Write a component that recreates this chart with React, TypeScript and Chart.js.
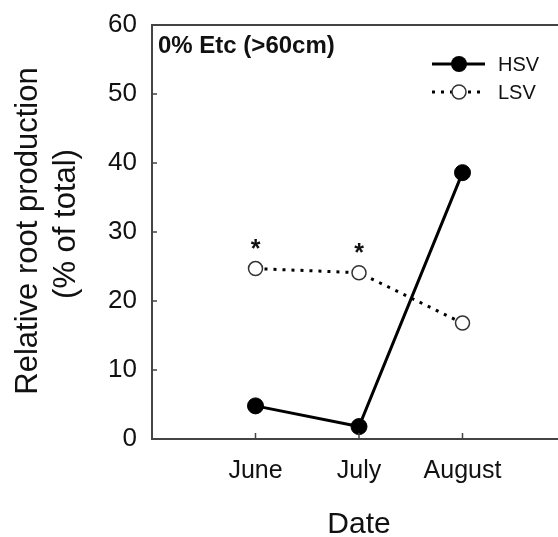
import React, { useEffect, useRef } from "react";
import { Chart, registerables } from "chart.js";

Chart.register(...registerables);

const categories = ["June", "July", "August"];
const hsv = [4.8, 1.8, 38.6];
const lsv = [24.7, 24.1, 16.8];
const significance = ["*", "*", ""];
const yTicks = [0, 10, 20, 30, 40, 50, 60];
const panelTitle = "0% Etc (>60cm)";
const yTitle = ["Relative root production", "(% of total)"];
const xTitle = "Date";
const seriesNames = ["HSV", "LSV"];

const FONT = "'Liberation Sans', Arial, Helvetica, sans-serif";
const AXIS = "#444";
const TEXT = "#111";

const overlay = {
  id: "overlay",
  afterDraw(chart: any) {
    const ctx = chart.ctx;
    const area = chart.chartArea;
    const xs = chart.scales.x;
    const ys = chart.scales.y;
    ctx.save();
    // top frame line
    ctx.strokeStyle = AXIS;
    ctx.lineWidth = 2;
    ctx.beginPath();
    ctx.moveTo(area.left, area.top);
    ctx.lineTo(area.right, area.top);
    ctx.stroke();
    // inward ticks
    ctx.lineWidth = 1.5;
    ctx.beginPath();
    yTicks.slice(1, -1).forEach((v) => {
      const py = ys.getPixelForValue(v);
      ctx.moveTo(area.left, py);
      ctx.lineTo(area.left + 5, py);
    });
    categories.forEach((_, i) => {
      const px = xs.getPixelForValue(i);
      ctx.moveTo(px, area.bottom);
      ctx.lineTo(px, area.bottom - 6);
    });
    ctx.stroke();

    // significance asterisks
    ctx.fillStyle = TEXT;
    ctx.font = `bold 25px ${FONT}`;
    ctx.textAlign = "center";
    ctx.textBaseline = "alphabetic";
    significance.forEach((s, i) => {
      if (!s) return;
      const px = xs.getPixelForValue(i);
      const py = ys.getPixelForValue(lsv[i]) - 26 + 14;
      ctx.fillText(s, px, py);
    });

    // panel title
    ctx.font = `bold 24px ${FONT}`;
    ctx.textAlign = "left";
    ctx.fillText(panelTitle, area.left + 6, area.top + 28);

    // y title
    ctx.font = `31px ${FONT}`;
    ctx.textAlign = "center";
    ctx.save();
    ctx.translate(0, 231);
    ctx.rotate(-Math.PI / 2);
    ctx.fillText(yTitle[0], 0, 37);
    ctx.restore();
    ctx.save();
    ctx.translate(0, 224);
    ctx.rotate(-Math.PI / 2);
    ctx.fillText(yTitle[1], 0, 75);
    ctx.restore();

    // x title
    ctx.font = `30px ${FONT}`;
    ctx.textAlign = "center";
    ctx.fillText(xTitle, (area.left + area.right) / 2, 533);

    // legend
    const lx0 = 432, lx1 = 485, mx = 459, tx = 498;
    const rows = [64, 92];
    ctx.strokeStyle = "#000";
    ctx.lineWidth = 3;
    ctx.setLineDash([]);
    ctx.beginPath();
    ctx.moveTo(lx0, rows[0]);
    ctx.lineTo(lx1, rows[0]);
    ctx.stroke();
    ctx.fillStyle = "#000";
    ctx.beginPath();
    ctx.arc(mx, rows[0], 8, 0, Math.PI * 2);
    ctx.fill();
    ctx.setLineDash([3, 6]);
    ctx.beginPath();
    ctx.moveTo(lx0, rows[1]);
    ctx.lineTo(lx1, rows[1]);
    ctx.stroke();
    ctx.setLineDash([]);
    ctx.fillStyle = "#fff";
    ctx.strokeStyle = "#333";
    ctx.lineWidth = 1.5;
    ctx.beginPath();
    ctx.arc(mx, rows[1], 7, 0, Math.PI * 2);
    ctx.fill();
    ctx.stroke();
    ctx.fillStyle = TEXT;
    ctx.font = `20px ${FONT}`;
    ctx.textAlign = "left";
    ctx.textBaseline = "middle";
    ctx.fillText(seriesNames[0], tx, rows[0] + 1);
    ctx.fillText(seriesNames[1], tx, rows[1] + 1);
    ctx.restore();
  },
};

export default function App() {
  const ref = useRef<HTMLCanvasElement>(null);
  useEffect(() => {
    if (!ref.current) return;
    const chart = new Chart(ref.current, {
      type: "line",
      data: {
        datasets: [
          {
            label: seriesNames[0],
            data: hsv.map((v, i) => ({ x: i, y: v })),
            borderColor: "#000",
            borderWidth: 3,
            backgroundColor: "#000",
            pointBackgroundColor: "#000",
            pointBorderColor: "#000",
            pointRadius: 8,
            pointBorderWidth: 1,
            fill: false,
            tension: 0,
          },
          {
            label: seriesNames[1],
            data: lsv.map((v, i) => ({ x: i, y: v })),
            borderColor: "#000",
            borderWidth: 3,
            borderDash: [3, 6],
            pointBackgroundColor: "#fff",
            pointBorderColor: "#333",
            pointBorderWidth: 1.5,
            pointRadius: 7,
            fill: false,
            tension: 0,
          },
        ],
      },
      options: {
        responsive: false,
        animation: false,
        layout: { padding: { top: 25, left: 0, right: 8, bottom: 0 } },
        plugins: { legend: { display: false }, tooltip: { enabled: false } },
        scales: {
          x: {
            type: "linear",
            min: -1,
            max: 3,
            afterBuildTicks: (scale: any) => {
              scale.ticks = categories.map((_, i) => ({ value: i }));
            },
            afterFit: (scale: any) => {
              scale.height = 98;
              scale.paddingLeft = 0;
              scale.paddingRight = 0;
            },
            ticks: {
              callback: (v: any) => categories[v as number] ?? "",
              font: { family: FONT, size: 25 },
              color: TEXT,
              padding: 17,
              maxRotation: 0,
              autoSkip: false,
            },
            grid: { display: false, drawTicks: false },
            border: { display: true, color: AXIS, width: 2 },
          },
          y: {
            min: 0,
            max: 60,
            afterBuildTicks: (scale: any) => {
              scale.ticks = yTicks.map((v) => ({ value: v }));
            },
            afterFit: (scale: any) => {
              scale.width = 152;
              scale.paddingTop = 0;
              scale.paddingBottom = 0;
            },
            ticks: {
              font: { family: FONT, size: 26 },
              color: TEXT,
              padding: 15,
            },
            grid: { display: false, drawTicks: false },
            border: { display: true, color: AXIS, width: 2 },
          },
        },
      },
      plugins: [overlay],
    });
    return () => chart.destroy();
  }, []);
  return (
    <div style={{ position: "fixed", left: 0, top: 0, width: 558, height: 537, overflow: "hidden", background: "#fff" }}>
      <canvas ref={ref} width={575} height={537} style={{ display: "block" }} />
    </div>
  );
}
